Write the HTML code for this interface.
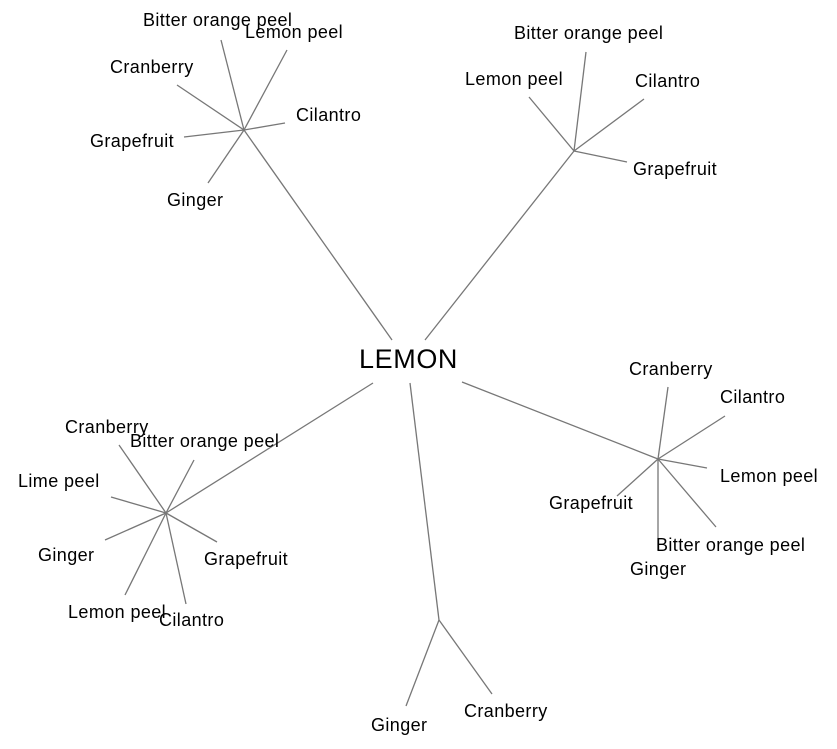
<!DOCTYPE html>
<html><head><style>
html,body{margin:0;padding:0;background:#fff;}
svg{display:block;}
text{font-family:"Liberation Sans",Arial,sans-serif;font-size:18px;letter-spacing:0.4px;fill:#000;dominant-baseline:central;}
line{stroke:#777;stroke-width:1.3;}
</style></head><body>
<svg width="837" height="749" viewBox="0 0 837 749" xmlns="http://www.w3.org/2000/svg">
<line x1="392" y1="340" x2="244" y2="130"/>
<line x1="425" y1="340" x2="574" y2="151"/>
<line x1="373" y1="383" x2="166" y2="513"/>
<line x1="462" y1="382" x2="658" y2="459"/>
<line x1="410" y1="383" x2="439" y2="620"/>
<line x1="244" y1="130" x2="221" y2="40"/>
<line x1="244" y1="130" x2="287" y2="50"/>
<line x1="244" y1="130" x2="177" y2="85"/>
<line x1="244" y1="130" x2="285" y2="123"/>
<line x1="244" y1="130" x2="184" y2="137"/>
<line x1="244" y1="130" x2="208" y2="183"/>
<line x1="574" y1="151" x2="586" y2="52"/>
<line x1="574" y1="151" x2="529" y2="97"/>
<line x1="574" y1="151" x2="644" y2="99"/>
<line x1="574" y1="151" x2="627" y2="162"/>
<line x1="166" y1="513" x2="119" y2="445"/>
<line x1="166" y1="513" x2="194" y2="460"/>
<line x1="166" y1="513" x2="111" y2="497"/>
<line x1="166" y1="513" x2="105" y2="540"/>
<line x1="166" y1="513" x2="217" y2="542"/>
<line x1="166" y1="513" x2="125" y2="595"/>
<line x1="166" y1="513" x2="186" y2="604"/>
<line x1="658" y1="459" x2="668" y2="387"/>
<line x1="658" y1="459" x2="725" y2="416"/>
<line x1="658" y1="459" x2="707" y2="468"/>
<line x1="658" y1="459" x2="617" y2="496"/>
<line x1="658" y1="459" x2="716" y2="527"/>
<line x1="658" y1="459" x2="658" y2="550"/>
<line x1="439" y1="620" x2="406" y2="706"/>
<line x1="439" y1="620" x2="492" y2="694"/>

<text x="359" y="359" style="font-size:27px;letter-spacing:0.6px">LEMON</text>

<text x="143" y="20">Bitter orange peel</text>
<text x="245" y="32">Lemon peel</text>
<text x="110" y="67">Cranberry</text>
<text x="296" y="115">Cilantro</text>
<text x="90" y="141">Grapefruit</text>
<text x="167" y="200">Ginger</text>

<text x="514" y="33">Bitter orange peel</text>
<text x="465" y="79">Lemon peel</text>
<text x="635" y="81">Cilantro</text>
<text x="633" y="169">Grapefruit</text>

<text x="629" y="369">Cranberry</text>
<text x="720" y="397">Cilantro</text>
<text x="720" y="476">Lemon peel</text>
<text x="549" y="503">Grapefruit</text>
<text x="656" y="545">Bitter orange peel</text>
<text x="630" y="569">Ginger</text>

<text x="65" y="427">Cranberry</text>
<text x="130" y="441">Bitter orange peel</text>
<text x="18" y="481">Lime peel</text>
<text x="38" y="555">Ginger</text>
<text x="204" y="559">Grapefruit</text>
<text x="68" y="612">Lemon peel</text>
<text x="159" y="620">Cilantro</text>

<text x="371" y="725">Ginger</text>
<text x="464" y="711">Cranberry</text>
</svg>
</body></html>
